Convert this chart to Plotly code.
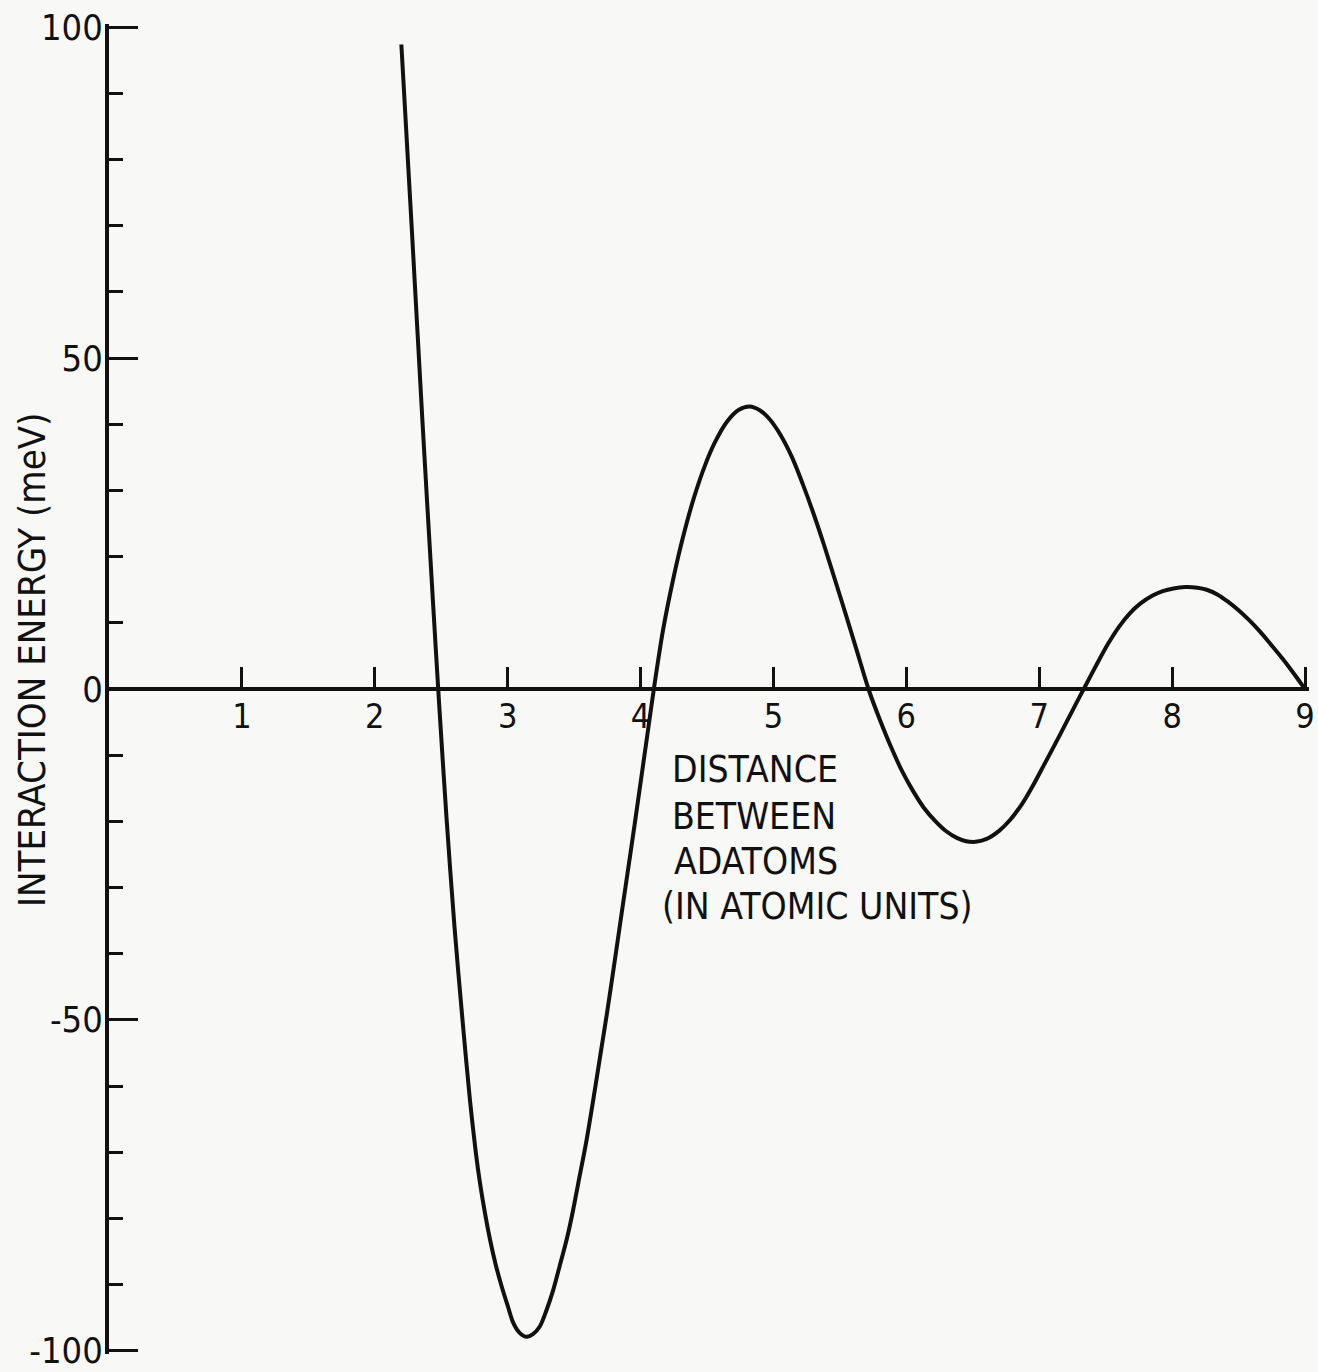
import plotly.graph_objects as go

# Distance between adatoms (atomic units) and interaction energy (meV)
distance = [2.20, 2.28, 2.36, 2.44, 2.485, 2.54, 2.60, 2.66, 2.716, 2.76, 2.792, 2.83,
            2.867, 2.91, 2.955, 3.00, 3.042, 3.09, 3.143, 3.19, 3.243, 3.29, 3.343, 3.39,
            3.444, 3.49, 3.531, 3.59, 3.644, 3.70, 3.745, 3.81, 3.87, 3.93, 3.983, 4.04,
            4.10, 4.17, 4.25, 4.32, 4.40, 4.485, 4.56, 4.65, 4.74, 4.82, 4.90, 4.97,
            5.05, 5.14, 5.22, 5.30, 5.38, 5.46, 5.55, 5.63, 5.72, 5.80, 5.89, 5.97,
            6.05, 6.13, 6.22, 6.30, 6.38, 6.45, 6.52, 6.60, 6.70, 6.78, 6.87, 6.95,
            7.03, 7.12, 7.20, 7.28, 7.335, 7.44, 7.52, 7.60, 7.68, 7.76, 7.85, 7.93,
            8.01, 8.10, 8.19, 8.26, 8.34, 8.42, 8.50, 8.58, 8.66, 8.74, 8.83, 8.91,
            9.00]
energy = [97.4, 69.0, 40.0, 12.5, -2.5, -19.5, -36.0, -50.0, -62.1, -70.0, -74.7, -79.3,
          -83.2, -87.0, -90.3, -93.2, -95.8, -97.3, -97.9, -97.5, -96.3, -94.0, -90.8, -87.3,
          -83.2, -79.0, -74.7, -68.6, -62.1, -55.0, -49.3, -40.5, -32.2, -24.0, -16.6, -8.5,
          0.0, 9.0, 17.0, 23.0, 28.8, 33.8, 37.3, 40.4, 42.2, 42.7, 42.1, 40.8,
          38.5, 35.0, 31.0, 26.6, 21.8, 16.7, 10.9, 5.6, -0.3, -4.6, -9.0, -12.5,
          -15.4, -17.9, -20.0, -21.5, -22.5, -23.0, -23.1, -22.7, -21.4, -19.8, -17.4, -14.7,
          -11.7, -8.3, -5.2, -2.1, 0.0, 4.0, 6.9, 9.4, 11.4, 12.9, 14.1, 14.8,
          15.2, 15.4, 15.3, 15.0, 14.3, 13.2, 11.9, 10.4, 8.7, 6.8, 4.6, 2.5,
          0.0]

x_tick_vals = [1, 2, 3, 4, 5, 6, 7, 8, 9]
x_tick_text = ["1", "2", "3", "4", "5", "6", "7", "8", "9"]
y_tick_vals = [-100, -50, 0, 50, 100]
y_tick_text = ["-100", "-50", "0", "50", "100"]

y_title = "INTERACTION ENERGY (meV)"
x_note_lines = ["DISTANCE", "BETWEEN", "ADATOMS", "(IN ATOMIC UNITS)"]
x_note_left = [4.218, 4.218, 4.240, 4.143]
x_note_mid = [-12.1, -19.2, -26.0, -32.8]

FONT = "Liberation Sans Narrow, DejaVu Sans Condensed, Arial Narrow, sans-serif"
INK = "#111111"
BG = "#f8f8f6"

# page geometry (pixels): y=100 at 27, y=-100 at 1351, x=0 at 109, 132.9 px per unit
W, H = 1318, 1380
PX_X, PX_Y = 132.9, 6.62
X_RANGE = [0, 9.03]
Y_RANGE = [-100.5, 100.5]
left = 109
top = 27 - (Y_RANGE[1] - 100) * PX_Y
plot_h = (Y_RANGE[1] - Y_RANGE[0]) * PX_Y
bottom = H - top - plot_h
plot_w = (X_RANGE[1] - X_RANGE[0]) * PX_X
right = W - left - plot_w

fig = go.Figure()
fig.add_trace(go.Scatter(
    x=distance, y=energy, mode="lines",
    line=dict(color=INK, width=4, shape="spline", smoothing=0.8),
    showlegend=False, hoverinfo="skip",
))

fig.update_layout(
    width=W, height=H,
    margin=dict(l=left, r=right, t=top, b=bottom),
    paper_bgcolor=BG, plot_bgcolor=BG,
    font=dict(family=FONT, color=INK),
    showlegend=False,
    xaxis=dict(
        range=X_RANGE, anchor="free", position=0.5, automargin=False,
        showline=True, linewidth=4, linecolor=INK,
        ticks="inside", ticklen=20, tickwidth=3, tickcolor=INK,
        tickvals=x_tick_vals, ticktext=x_tick_text,
        tickfont=dict(size=34, family=FONT, color=INK),
        ticklabelstandoff=-4,
        showgrid=False, zeroline=False,
    ),
    yaxis=dict(
        range=Y_RANGE, automargin=False,
        showline=True, linewidth=4, linecolor=INK,
        ticks="inside", ticklen=29, tickwidth=3, tickcolor=INK,
        tickvals=y_tick_vals, ticktext=y_tick_text,
        tickfont=dict(size=36, family=FONT, color=INK),
        ticklabelstandoff=-5,
        minor=dict(tick0=0, dtick=10, ticks="inside", ticklen=14,
                   tickwidth=3, tickcolor=INK, showgrid=False),
        showgrid=False, zeroline=False,
    ),
)

# y-axis title (rotated)
fig.add_annotation(
    xref="paper", yref="paper",
    x=(32 - left) / plot_w, y=((H - bottom) - 660) / plot_h,
    xanchor="center", yanchor="middle",
    text=y_title, textangle=-90, showarrow=False,
    font=dict(size=38, family=FONT, color=INK),
)

# x-axis note inside the plot, one line per annotation
for line_text, lx, ly in zip(x_note_lines, x_note_left, x_note_mid):
    fig.add_annotation(
        xref="x", yref="y", x=lx, y=ly,
        xanchor="left", yanchor="middle", align="left",
        text=line_text, showarrow=False,
        font=dict(size=37, family=FONT, color=INK),
    )

fig.write_html(
    "out.html",
    config={"displayModeBar": False, "staticPlot": True},
    post_script="document.body.style.margin='0';document.body.style.background='%s';" % BG,
)
